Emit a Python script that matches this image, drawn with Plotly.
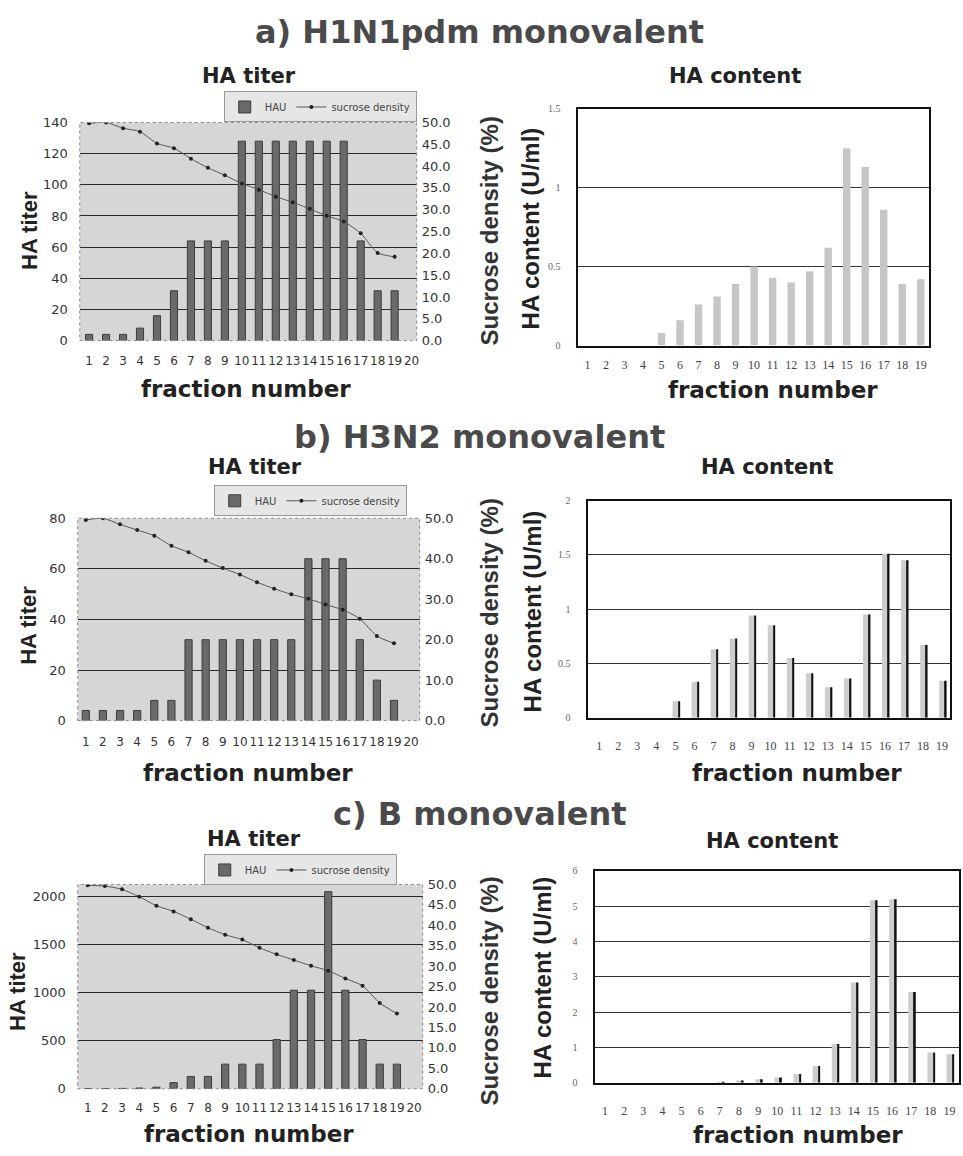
import plotly.graph_objects as go

W, H = 963, 1156

# ---------------- data ----------------
frac20 = list(range(1, 21))
frac19 = list(range(1, 20))

hau_a = [4, 4, 4, 8, 16, 32, 64, 64, 64, 128, 128, 128, 128, 128, 128, 128, 64, 32, 32]
suc_a = [49.8, 50.0, 48.7, 47.9, 45.2, 44.1, 41.7, 39.6, 37.9, 36.0, 34.6, 33.0, 31.7, 30.2, 28.6, 27.3, 24.6, 20.1, 19.2]
cont_a = [0, 0, 0, 0, 0.08, 0.16, 0.26, 0.31, 0.39, 0.50, 0.43, 0.40, 0.47, 0.62, 1.25, 1.13, 0.86, 0.39, 0.42]

hau_b = [4, 4, 4, 4, 8, 8, 32, 32, 32, 32, 32, 32, 32, 64, 64, 64, 32, 16, 8]
suc_b = [49.6, 50.0, 48.5, 47.1, 45.7, 43.2, 41.6, 39.5, 37.7, 36.1, 34.2, 32.6, 31.2, 30.1, 28.7, 27.4, 25.2, 20.9, 19.1]
cont_b = [0, 0, 0, 0, 0.15, 0.33, 0.63, 0.73, 0.94, 0.85, 0.55, 0.41, 0.28, 0.36, 0.95, 1.51, 1.45, 0.67, 0.34]

hau_c = [2, 2, 4, 8, 16, 64, 128, 128, 256, 256, 256, 512, 1024, 1024, 2048, 1024, 512, 256, 256]
suc_c = [49.8, 49.6, 48.8, 47.0, 44.8, 43.4, 41.5, 39.4, 37.7, 36.5, 34.5, 32.9, 31.5, 30.1, 28.9, 27.0, 25.2, 21.0, 18.4]
cont_c = [0, 0, 0, 0, 0, 0, 0.02, 0.07, 0.10, 0.15, 0.25, 0.48, 1.10, 2.84, 5.16, 5.19, 2.57, 0.86, 0.81]

main_titles = ["a) H1N1pdm monovalent", "b) H3N2 monovalent", "c) B monovalent"]

# ---------------- helpers ----------------
def dx(px):
    return px / W


def dy(py):
    return 1 - py / H


BG_LEFT = "#d6d6d6"
BAR_DARK = "#6a6a6a"
TXT = "#222222"

fig = go.Figure()

panels = [
    dict(L=(80, 418, 117, 338), R=(580, 932, 103, 343), ymax=140, dtick=20, s2dtick=5,
         xr=[0.45, 20.3], rxr=[0.5, 19.45], rmax=1.5, rdtick=0.5,
         hau=hau_a, suc=suc_a, cont=cont_a, legbox=(418, 117), dark=False,
         xstand=11, rxstand=7),
    dict(L=(78, 421, 518, 723), R=(590, 953, 500, 720), ymax=80, dtick=20, s2dtick=10,
         xr=[0.53, 20.5], rxr=[0.42, 19.42], rmax=2, rdtick=0.5,
         hau=hau_b, suc=suc_b, cont=cont_b, legbox=(408, 516), dark=True,
         xstand=12, rxstand=16),
    dict(L=(78, 424, 889, 1096), R=(597, 962, 875, 1090), ymax=2123, dtick=500, s2dtick=5,
         xr=[0.42, 20.5], rxr=[0.48, 19.5], rmax=6, rdtick=1,
         hau=hau_c, suc=suc_c, cont=cont_c, legbox=(398, 890), dark=True,
         xstand=10, rxstand=16),
]

legend_names = ["legend", "legend2", "legend3"]
layout_axes = {}
shapes = []

for i, p in enumerate(panels):
    xl = 2 * i + 1
    xr_ = 2 * i + 2
    yl = 3 * i + 1
    ys = 3 * i + 2
    yr = 3 * i + 3

    def nm(prefix, k):
        return prefix if k == 1 else f"{prefix}{k}"

    x0, x1, y0, y1 = p["L"]
    leg = legend_names[i]

    fig.add_trace(go.Bar(
        x=frac19, y=p["hau"], name="HAU", width=0.42,
        marker=dict(color=BAR_DARK, line=dict(color="#3c3c3c", width=1)),
        xaxis=nm("x", xl), yaxis=nm("y", yl), legend=leg))
    fig.add_trace(go.Scatter(
        x=frac19, y=p["suc"], name="sucrose density", mode="lines+markers",
        line=dict(color="#555555", width=1, shape="spline", smoothing=0.6),
        marker=dict(size=4, color="#222222"),
        xaxis=nm("x", xl), yaxis=nm("y", ys), legend=leg))

    layout_axes[nm("xaxis", xl)] = dict(
        domain=[dx(x0), dx(x1)], anchor=nm("y", yl), range=p["xr"],
        tickmode="array", tickvals=frac20, ticktext=[str(v) for v in frac20],
        tickangle=0, showgrid=False, zeroline=False, showline=False, ticks="", ticklen=0,
        tickfont=dict(size=12, color="#333"), ticklabelstandoff=p["xstand"])
    layout_axes[nm("yaxis", yl)] = dict(
        domain=[dy(y1), dy(y0)], anchor=nm("x", xl), range=[0, p["ymax"]],
        dtick=p["dtick"], tick0=0, showgrid=True, gridcolor="#2a2a2a", gridwidth=1,
        zeroline=False, showline=False, ticks="", ticklen=0,
        tickfont=dict(size=13, color="#333"), ticklabelstandoff=11)
    layout_axes[nm("yaxis", ys)] = dict(
        anchor=nm("x", xl), overlaying=nm("y", yl), side="right",
        range=[0, 50], dtick=p["s2dtick"], tick0=0, tickformat=".1f",
        showgrid=False, zeroline=False, showline=False, ticks="", ticklen=0,
        tickfont=dict(size=13, color="#333"), ticklabelstandoff=4)

    shapes.append(dict(type="rect", xref=f"{nm('x', xl)} domain", yref=f"{nm('y', yl)} domain",
                       x0=0, x1=1, y0=0, y1=1, fillcolor=BG_LEFT, line=dict(width=0), layer="below"))
    shapes.append(dict(type="rect", xref=f"{nm('x', xl)} domain", yref=f"{nm('y', yl)} domain",
                       x0=0, x1=1, y0=0, y1=1, fillcolor="rgba(0,0,0,0)",
                       line=dict(color="#8a8a8a", width=1, dash="dot"), layer="above"))

    # ---- right content plot ----
    rx0, rx1, ry0, ry1 = p["R"]
    if p["dark"]:
        fig.add_trace(go.Bar(
            x=frac19, y=p["cont"], width=0.3, offset=-0.15,
            marker=dict(color="#cdcdcd", line=dict(width=0)), showlegend=False,
            xaxis=nm("x", xr_), yaxis=nm("y", yr)))
        fig.add_trace(go.Bar(
            x=frac19, y=p["cont"], width=0.09, offset=0.15,
            marker=dict(color="#111111", line=dict(width=0)), showlegend=False,
            xaxis=nm("x", xr_), yaxis=nm("y", yr)))
    else:
        fig.add_trace(go.Bar(
            x=frac19, y=p["cont"], width=0.4, offset=-0.2,
            marker=dict(color="#c6c6c6", line=dict(width=0)), showlegend=False,
            xaxis=nm("x", xr_), yaxis=nm("y", yr)))

    layout_axes[nm("xaxis", xr_)] = dict(
        domain=[dx(rx0), dx(rx1)], anchor=nm("y", yr), range=p["rxr"],
        tickmode="array", tickvals=frac19, ticktext=[str(v) for v in frac19],
        tickangle=0, showgrid=False, zeroline=False, showline=True, linecolor="#111",
        linewidth=1.5, mirror=True, ticks="", ticklen=0,
        tickfont=dict(size=12, color="#444", family="Liberation Serif"),
        ticklabelstandoff=p["rxstand"])
    layout_axes[nm("yaxis", yr)] = dict(
        domain=[dy(ry1), dy(ry0)], anchor=nm("x", xr_), range=[0, p["rmax"]],
        dtick=p["rdtick"], tick0=0, showgrid=True, gridcolor="#333", gridwidth=1,
        zeroline=False, showline=True, linecolor="#111", linewidth=1.5, mirror=True,
        ticks="", ticklen=0, tickfont=dict(size=10, color="#666", family="Liberation Serif"),
        ticklabelstandoff=14)

# ---------------- annotations ----------------
ann = []


def add_text(text, x, y, size, family="DejaVu Sans", color=TXT, angle=0, weight="bold"):
    ann.append(dict(text=text, x=dx(x), y=dy(y), xref="paper", yref="paper",
                    showarrow=False, xanchor="center", yanchor="middle", textangle=angle,
                    font=dict(size=size, family=family, color=color, weight=weight)))


title_pos = [(481, 25), (481, 436), (481, 818)]
sub_left = [(250, 70), (256, 466), (255, 843)]
sub_right = [(737, 70), (769, 466), (774, 845)]
ytitle_left = [(29, 226), (29, 626), (17, 997)]
suc_title = [(491, 227), (491, 614), (491, 997)]
cont_title = [(532, 224), (534, 612), (544, 983)]
fn_left = [(247, 387), (249, 776), (250, 1142)]
fn_right = [(775, 388), (799, 776), (800, 1143)]

for i in range(3):
    add_text(main_titles[i], *title_pos[i], 32, color="#4a4a4a")
    add_text("HA titer", *sub_left[i], 21)
    add_text("HA content", *sub_right[i], 21)
    add_text("HA titer", *ytitle_left[i], 22, family="Liberation Sans", angle=-90)
    add_text("Sucrose density (%)", *suc_title[i], 24, family="Liberation Sans", color="#333", angle=-90)
    add_text("HA content (U/ml)", *cont_title[i], 24, family="Liberation Sans", angle=-90)
    add_text("fraction number", *fn_left[i], 23)
    add_text("fraction number", *fn_right[i], 23)

legends = {}
for i, p in enumerate(panels):
    lx, ly = p["legbox"]
    legends[legend_names[i]] = dict(
        x=dx(lx), y=dy(ly), xanchor="right", yanchor="bottom", orientation="h",
        bgcolor="#e6e6e6", bordercolor="#999", borderwidth=1,
        font=dict(size=10, color="#444"), itemwidth=30, tracegroupgap=0,
        traceorder="normal")

fig.update_layout(
    width=W, height=H, margin=dict(l=0, r=0, t=0, b=0),
    paper_bgcolor="white", plot_bgcolor="rgba(0,0,0,0)",
    font=dict(family="DejaVu Sans", color="#333"),
    barmode="overlay", showlegend=True,
    annotations=ann, shapes=shapes,
    **layout_axes, **legends)

fig.write_html("out.html", config={"displayModeBar": False},
               post_script="document.body.style.margin='0px';")
